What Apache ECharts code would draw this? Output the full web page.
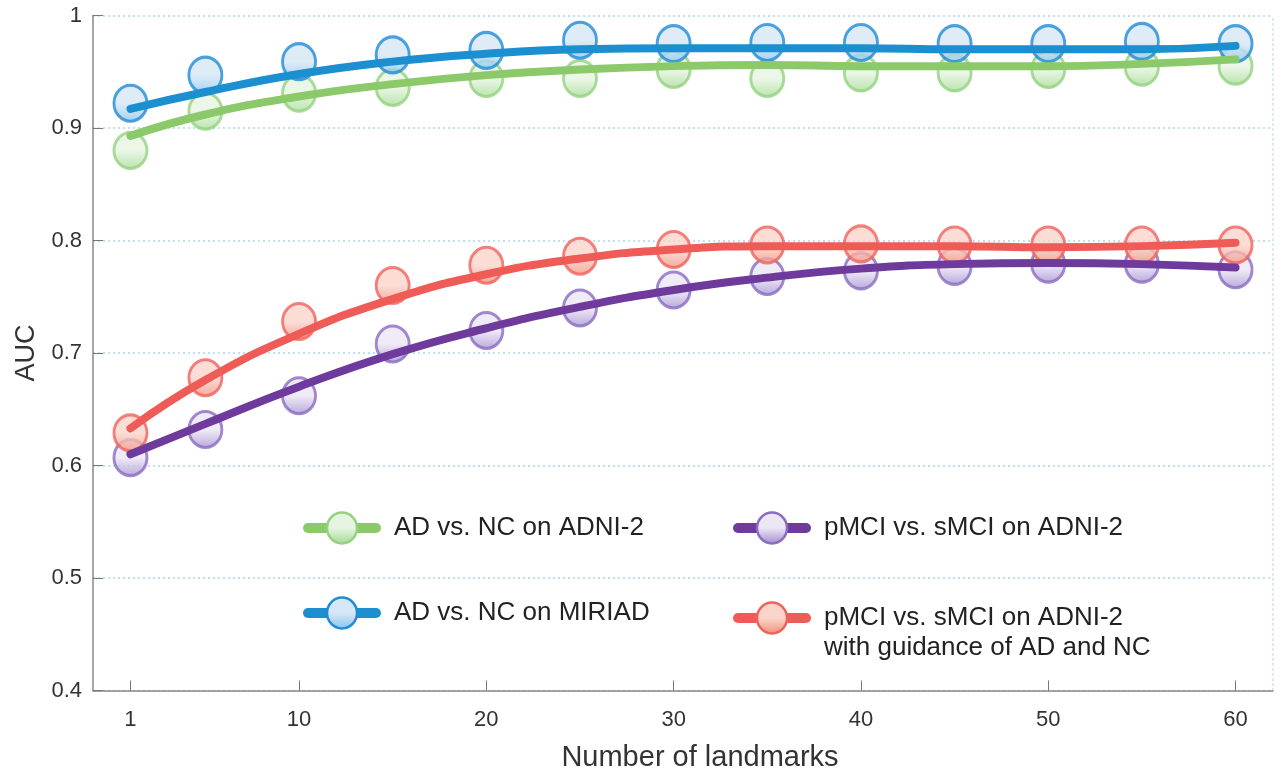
<!DOCTYPE html>
<html>
<head>
<meta charset="utf-8">
<script src="https://cdn.jsdelivr.net/npm/echarts@6/dist/echarts.min.js"></script>
<style>html,body{margin:0;padding:0;background:#fff}#c{width:1286px;height:779px}</style>
</head>
<body>
<div id="c"></div>
<script>
const landmarks = [1, 5, 10, 15, 20, 25, 30, 35, 40, 45, 50, 55, 60];
const xTickLabels = [1, 10, 20, 30, 40, 50, 60];
const seriesNames = [
  'AD vs. NC on ADNI-2',
  'pMCI vs. sMCI on ADNI-2',
  'AD vs. NC on MIRIAD',
  'pMCI vs. sMCI on ADNI-2\nwith guidance of AD and NC'
];
// measured AUC (markers)
const adncAdni2 = [0.880, 0.915, 0.931, 0.936, 0.944, 0.944, 0.952, 0.944, 0.949, 0.949, 0.952, 0.954, 0.955];
const pmciAdni2 = [0.607, 0.632, 0.662, 0.708, 0.720, 0.740, 0.756, 0.768, 0.773, 0.777, 0.779, 0.779, 0.774];
const adncMiriad = [0.922, 0.947, 0.959, 0.965, 0.969, 0.978, 0.975, 0.976, 0.976, 0.975, 0.975, 0.977, 0.975];
const pmciGuided = [0.629, 0.678, 0.728, 0.760, 0.778, 0.786, 0.792, 0.796, 0.797, 0.796, 0.796, 0.796, 0.796];
// fitted trend curves
const adncAdni2Fit = [0.893, 0.912, 0.928, 0.939, 0.947, 0.952, 0.955, 0.956, 0.955, 0.955, 0.955, 0.957, 0.961];
const pmciAdni2Fit = [0.610, 0.637, 0.670, 0.699, 0.722, 0.741, 0.756, 0.767, 0.775, 0.779, 0.780, 0.779, 0.776];
const adncMiriadFit = [0.917, 0.932, 0.948, 0.959, 0.966, 0.970, 0.971, 0.971, 0.971, 0.970, 0.970, 0.970, 0.973];
const pmciGuidedFit = [0.633, 0.676, 0.717, 0.748, 0.770, 0.784, 0.792, 0.795, 0.795, 0.795, 0.794, 0.795, 0.798];

const styles = [
  {line: '#8cc96a', border: '#93d27f', top: '#e6f4e1', bottom: '#a5dc95'},
  {line: '#6e3b9c', border: '#8a6cc2', top: '#ece6f5', bottom: '#a48fd0'},
  {line: '#1b8fd0', border: '#1f8bd4', top: '#d6e7f6', bottom: '#8ec4ee'},
  {line: '#ef5b56', border: '#f1625c', top: '#fbd5cb', bottom: '#f2927f'}
];
const measured = [adncAdni2, pmciAdni2, adncMiriad, pmciGuided];
const fits = [adncAdni2Fit, pmciAdni2Fit, adncMiriadFit, pmciGuidedFit];

function grad(s) {
  return new echarts.graphic.LinearGradient(0, 0, 0, 1, [
    {offset: 0, color: s.top}, {offset: 0.5, color: s.top}, {offset: 1, color: s.bottom}
  ]);
}
function legendIcon(s) {
  const svg = '<svg xmlns="http://www.w3.org/2000/svg" width="86" height="34" viewBox="0 0 86 34">' +
    '<defs><linearGradient id="g" x1="0" y1="0" x2="0" y2="1">' +
    '<stop offset="0" stop-color="' + s.top + '"/><stop offset="0.5" stop-color="' + s.top + '"/>' +
    '<stop offset="1" stop-color="' + s.bottom + '"/></linearGradient></defs>' +
    '<line x1="5" y1="17" x2="73" y2="17" stroke="' + s.line + '" stroke-width="10" stroke-linecap="round"/>' +
    '<ellipse cx="39" cy="17" rx="15" ry="15.5" fill="url(#g)" stroke="' + s.border + '" stroke-width="2.5"/></svg>';
  return 'image://data:image/svg+xml;charset=utf-8,' + encodeURIComponent(svg);
}

const series = [];
measured.forEach((vals, i) => {
  series.push({
    type: 'scatter', name: 'pts' + i, z: 2,
    data: landmarks.map((x, k) => [x, vals[k]]),
    symbol: 'circle', symbolSize: [33, 36],
    itemStyle: {color: grad(styles[i]), borderColor: styles[i].border, borderWidth: 3}
  });
});
fits.forEach((vals, i) => {
  series.push({
    type: 'line', name: seriesNames[i], z: 3,
    data: landmarks.map((x, k) => [x, vals[k]]),
    smooth: 0.5, showSymbol: false, symbol: 'none',
    lineStyle: {color: styles[i].line, width: 8, cap: 'round'},
    itemStyle: {color: styles[i].line},
    emphasis: {disabled: true}
  });
});

// legend anchor: [icon left, icon vertical centre]
const legendPos = [[303, 528], [733, 528], [303, 613], [733, 618]];
const legends = seriesNames.map((n, i) => ({
  data: [{name: n, icon: legendIcon(styles[i])}],
  left: legendPos[i][0],
  top: i === 3 ? legendPos[i][1] - 45 : legendPos[i][1] - 17,
  padding: 0, itemWidth: 86, itemHeight: 34, selectedMode: false,
  formatter: i === 3 ? (name => '\n' + name) : (name => name),
  textStyle: {fontSize: 26, color: '#222', fontFamily: 'Liberation Sans', lineHeight: 30}
}));

const chart = echarts.init(document.getElementById('c'));
chart.setOption({
  animation: false,
  backgroundColor: '#fff',
  grid: {left: 93, right: 13, top: 15.5, bottom: 88.5},
  legend: legends,
  xAxis: {
    type: 'value', min: -1, max: 62,
    name: 'Number of landmarks', nameLocation: 'middle', nameGap: 53,
    nameTextStyle: {fontSize: 29, color: '#333', fontFamily: 'Liberation Sans', padding: [0, 0, 0, 34]},
    axisLine: {onZero: false, lineStyle: {color: '#888', width: 1.5}},
    axisTick: {inside: true, length: 10, customValues: xTickLabels, lineStyle: {color: '#777'}},
    axisLabel: {customValues: xTickLabels, fontSize: 22, color: '#333', margin: 18, fontFamily: 'Liberation Sans'},
    splitLine: {show: false}
  },
  yAxis: [{
    type: 'value', min: 0.4, max: 1, interval: 0.1,
    name: 'AUC', nameLocation: 'middle', nameGap: 50, nameRotate: 90,
    nameTextStyle: {fontSize: 27, color: '#333', fontFamily: 'Liberation Sans'},
    axisLine: {show: true, onZero: false, lineStyle: {color: '#888', width: 1.5}},
    axisTick: {show: true, inside: true, length: 10, lineStyle: {color: '#777'}},
    axisLabel: {fontSize: 22, color: '#333', margin: 11, fontFamily: 'Liberation Sans'},
    splitLine: {show: true, lineStyle: {color: '#aad6ea', type: [2, 3], width: 1.5}}
  }, {
    type: 'value', min: 0.4, max: 1, position: 'right',
    axisLine: {show: true, onZero: false, lineStyle: {color: '#cfe6f2', type: [2, 3], width: 1.5}},
    axisTick: {show: false}, axisLabel: {show: false}, splitLine: {show: false}
  }],
  series: series
});
</script>
</body>
</html>
